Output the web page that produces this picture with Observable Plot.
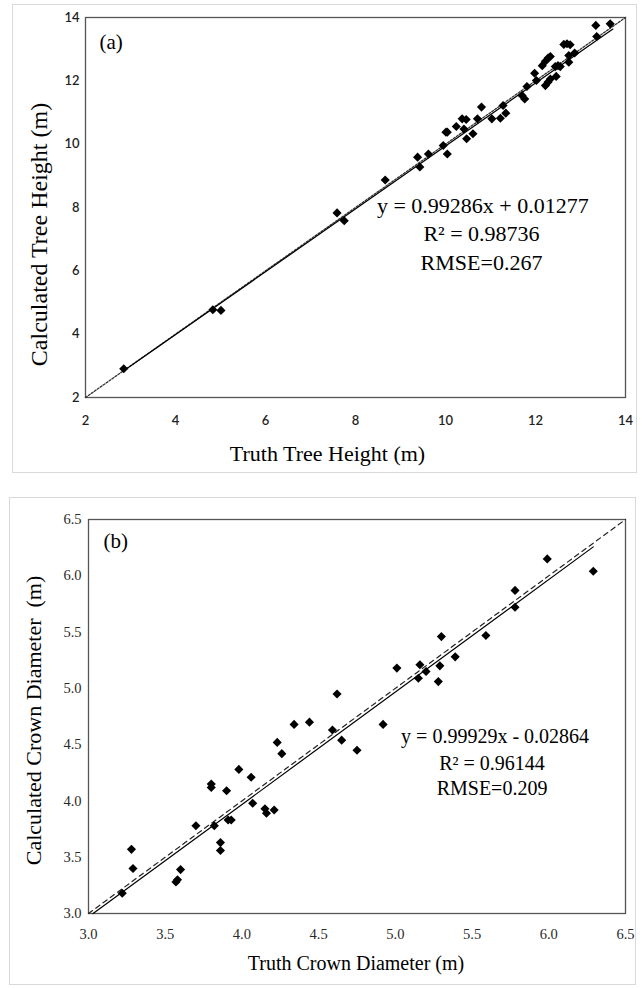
<!DOCTYPE html>
<html><head><meta charset="utf-8">
<script src="https://cdn.jsdelivr.net/npm/d3@7"></script>
<script src="https://cdn.jsdelivr.net/npm/@observablehq/plot@0.6"></script>
<style>
body{margin:0;background:#fff;}
#wrap{position:relative;width:642px;height:988px;overflow:hidden;background:#fff;}
.box{position:absolute;border:1px solid #d9d9d9;box-sizing:border-box;}
.pp{position:absolute;left:0;}
</style></head><body><div id="wrap">
<div class="box" style="left:12px;top:4px;width:625px;height:469px"></div>
<div class="box" style="left:9px;top:497px;width:627px;height:488px"></div>
<div id="pa" class="pp" style="top:0"></div>
<div id="pb" class="pp" style="top:480px"></div>
</div>
<script>
// ---------- Panel (a): tree height ----------
const truthHeight = [2.85, 4.83, 5.01, 7.59, 7.75, 8.66, 9.38, 9.43, 9.62, 9.95, 10.01, 10.04, 10.04, 10.24, 10.37, 10.46, 10.41, 10.47, 10.61, 10.71, 10.80, 11.03, 11.22, 11.28, 11.34, 11.70, 11.76, 11.81, 11.98, 12.02, 12.15, 12.22, 12.28, 12.33, 12.22, 12.28, 12.33, 12.46, 12.44, 12.50, 12.55, 12.63, 12.70, 12.77, 12.74, 12.74, 12.87, 13.34, 13.36, 13.66];
const calcHeight  = [2.91, 4.77, 4.75, 7.83, 7.58, 8.87, 9.59, 9.28, 9.69, 9.96, 10.38, 10.38, 9.69, 10.56, 10.80, 10.78, 10.48, 10.17, 10.33, 10.80, 11.17, 10.80, 10.82, 11.22, 10.98, 11.54, 11.43, 11.82, 12.24, 12.01, 12.48, 12.62, 12.72, 12.77, 11.85, 11.96, 12.06, 12.14, 12.45, 12.48, 12.45, 13.15, 13.17, 13.14, 12.80, 12.59, 12.88, 13.75, 13.40, 13.80];
const ticksA = [2, 4, 6, 8, 10, 12, 14];
const fitA = {slope: 0.99286, intercept: 0.01277, from: 2.85, to: 13.72};
const identityRangeA = [2, 14];
const annA = ["y = 0.99286x + 0.01277", "R\u00B2 = 0.98736", "RMSE=0.267"];
const annAx = [10.83, 10.8, 10.8];
const annAy = [8.05, 7.16, 6.24];

// ---------- Panel (b): crown diameter ----------
const truthCrown = [3.22, 3.28, 3.29, 3.57, 3.58, 3.60, 3.70, 3.80, 3.80, 3.82, 3.86, 3.86, 3.90, 3.91, 3.93, 3.98, 4.06, 4.07, 4.15, 4.16, 4.21, 4.23, 4.26, 4.34, 4.44, 4.59, 4.62, 4.65, 4.75, 4.92, 5.01, 5.15, 5.16, 5.20, 5.28, 5.29, 5.30, 5.39, 5.59, 5.78, 5.78, 5.99, 6.29];
const calcCrown  = [3.18, 3.57, 3.40, 3.28, 3.30, 3.39, 3.78, 4.12, 4.15, 3.78, 3.63, 3.56, 4.09, 3.83, 3.83, 4.28, 4.21, 3.98, 3.93, 3.89, 3.92, 4.52, 4.42, 4.68, 4.70, 4.63, 4.95, 4.54, 4.45, 4.68, 5.18, 5.09, 5.21, 5.15, 5.06, 5.20, 5.46, 5.28, 5.47, 5.87, 5.72, 6.15, 6.04];
const ticksB = [3.0, 3.5, 4.0, 4.5, 5.0, 5.5, 6.0, 6.5];
const fitB = {slope: 0.99929, intercept: -0.02864, from: 3.03, to: 6.29};
const identityRangeB = [3, 6.5];
const annB = ["y = 0.99929x - 0.02864", "R\u00B2 = 0.96144", "RMSE=0.209"];
const annBx = [5.65, 5.63, 5.63];
const annBy = [4.57, 4.33, 4.11];

const serif = "'Liberation Serif', 'Times New Roman', serif";

function pts(xs, ys) { return xs.map((x, i) => ({x, y: ys[i]})); }
function fitLine(f) { return [f.from, f.to].map(x => ({x, y: f.slope * x + f.intercept})); }
function idLine(r) { return r.map(v => ({x: v, y: v})); }
function ann(t, xs, ys) { return t.map((s, i) => ({t: s, x: xs[i], y: ys[i]})); }

const chartA = Plot.plot({
  width: 642, height: 480,
  marginLeft: 85, marginRight: 17, marginTop: 17, marginBottom: 83,
  style: {fontFamily: "Lato, 'Open Sans', sans-serif", fontSize: "13px", fontWeight: 600, color: "#1f1f1f", background: "transparent", overflow: "visible"},
  x: {domain: [2, 14]},
  y: {domain: [2, 14]},
  marks: [
    Plot.frame({stroke: "#555", strokeWidth: 1.3}),
    Plot.axisX(ticksA, {tickSize: 0, tickPadding: 18, label: null}),
    Plot.axisY(ticksA, {tickSize: 0, tickPadding: 6, label: null}),
    Plot.line(idLine(identityRangeA), {x: "x", y: "y", stroke: "#333", strokeWidth: 1.3, strokeDasharray: "2,1.6"}),
    Plot.line(fitLine(fitA), {x: "x", y: "y", stroke: "#000", strokeWidth: 1.2}),
    Plot.dot(pts(truthHeight, calcHeight), {x: "x", y: "y", symbol: "diamond2", r: 4.1, fill: "#000", stroke: "none"}),
    Plot.text(ann(annA, annAx, annAy), {x: "x", y: "y", text: "t", fontFamily: serif, fontSize: 22, fontWeight: 400, fill: "#000", textAnchor: "middle", lineAnchor: "middle"}),
    Plot.text(["(a)"], {frameAnchor: "top-left", dx: 14, dy: 25, textAnchor: "start", lineAnchor: "middle", fontFamily: serif, fontSize: 21, fontWeight: 400, fill: "#000"}),
    Plot.text(["Truth Tree Height (m)"], {frameAnchor: "bottom", dx: -28, dy: 56, textAnchor: "middle", lineAnchor: "middle", fontFamily: serif, fontSize: 22, fontWeight: 400, fill: "#000"}),
    Plot.text(["Calculated Tree Height (m)"], {frameAnchor: "left", dx: -46, dy: 27, rotate: -90, textAnchor: "middle", lineAnchor: "middle", fontFamily: serif, fontSize: 24, fontWeight: 400, fill: "#000"})
  ]
});
document.getElementById("pa").appendChild(chartA);

const chartB = Plot.plot({
  width: 642, height: 508,
  marginLeft: 88, marginRight: 17, marginTop: 39, marginBottom: 75,
  style: {fontFamily: serif, fontSize: "14.5px", color: "#2a2a2a", background: "transparent", overflow: "visible"},
  x: {domain: [3, 6.5]},
  y: {domain: [3, 6.5]},
  marks: [
    Plot.frame({stroke: "#555", strokeWidth: 1.3}),
    Plot.axisX(ticksB, {tickSize: 0, tickPadding: 15, label: null, tickFormat: d3.format(".1f")}),
    Plot.axisY(ticksB, {tickSize: 0, tickPadding: 7, label: null, tickFormat: d3.format(".1f")}),
    Plot.line(idLine(identityRangeB), {x: "x", y: "y", stroke: "#222", strokeWidth: 1.2, strokeDasharray: "5,4"}),
    Plot.line(fitLine(fitB), {x: "x", y: "y", stroke: "#000", strokeWidth: 1.2}),
    Plot.dot(pts(truthCrown, calcCrown), {x: "x", y: "y", symbol: "diamond2", r: 4.1, fill: "#000", stroke: "none"}),
    Plot.text(ann(annB, annBx, annBy), {x: "x", y: "y", text: "t", fontFamily: serif, fontSize: 20, fill: "#000", textAnchor: "middle", lineAnchor: "middle"}),
    Plot.text(["(b)"], {frameAnchor: "top-left", dx: 15, dy: 22, textAnchor: "start", lineAnchor: "middle", fontFamily: serif, fontSize: 21, fill: "#000"}),
    Plot.text(["Truth Crown Diameter (m)"], {frameAnchor: "bottom", dx: -1, dy: 50, textAnchor: "middle", lineAnchor: "middle", fontFamily: serif, fontSize: 20, fill: "#000"}),
    Plot.text(["Calculated Crown Diameter  (m)"], {frameAnchor: "left", dx: -55, dy: 4, rotate: -90, textAnchor: "middle", lineAnchor: "middle", fontFamily: serif, fontSize: 22, fill: "#000"})
  ]
});
document.getElementById("pb").appendChild(chartB);
</script>
</body></html>
